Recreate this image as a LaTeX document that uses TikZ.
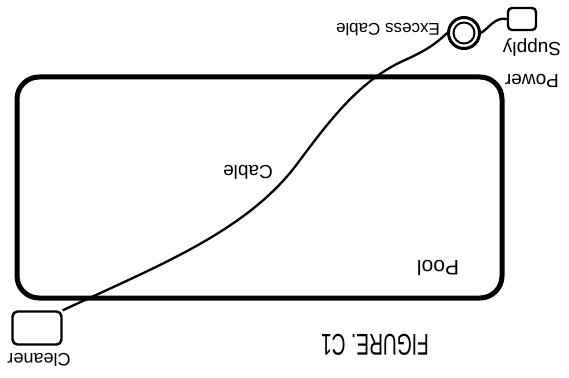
\documentclass[tikz,border=0pt]{standalone}
\usepackage{fontspec}
\setmainfont{Liberation Sans}
\begin{document}
\begin{tikzpicture}[x=1pt,y=-1pt,
    lbl/.style={rotate=180,inner sep=0pt,font=\fontsize{18}{20}\selectfont},
    box/.style={draw,line width=2.4pt,rounded corners=5pt,inner sep=0pt}]
  \useasboundingbox (0,0) rectangle (569,377);
  % pool
  \draw[line width=5pt,rounded corners=22pt] (17,77) rectangle (502,298);
  \node[lbl,font=\fontsize{21}{24}\selectfont] (pool) at (438,268) {Pool};
  % cleaner and power supply
  \node[box,minimum width=49pt,minimum height=33pt] (cleaner) at (37,328) {};
  \node[lbl] (cleanerlbl) at (39,360) {Cleaner};
  \node[box,minimum width=28pt,minimum height=22pt,rounded corners=4pt] (supply) at (522,19) {};
  \node[lbl,align=center,font=\fontsize{19}{32}\selectfont] (supplylbl) at (532,63) {Power\\Supply};
  % excess cable coil
  \node[draw,circle,line width=3pt,minimum size=31pt,inner sep=0pt] (ring) at (464,33) {};
  \draw[line width=2pt] (ring) circle (10.5pt);
  \node[lbl,font=\fontsize{17}{20}\selectfont] (ringlbl) at (388,30) {Excess Cable};
  % cable
  \draw[line width=2.3pt] (cleaner.north east) .. controls (160,265) and (250,230) .. (300,160)
    .. controls (330,120) and (360,80) .. (405,60)
    .. controls (425,51) and (436,44) .. (ring.west);
  \draw[line width=2.3pt] (ring.east) .. controls (490,27) and (495,17) .. (supply.west);
  \node[lbl,font=\fontsize{19}{22}\selectfont] (cablelbl) at (248,172) {Cable};
  \node[lbl,xscale=0.64,font=\fontsize{30}{32}\selectfont] (title) at (375,345) {FIGURE. C1};
\end{tikzpicture}
\end{document}
